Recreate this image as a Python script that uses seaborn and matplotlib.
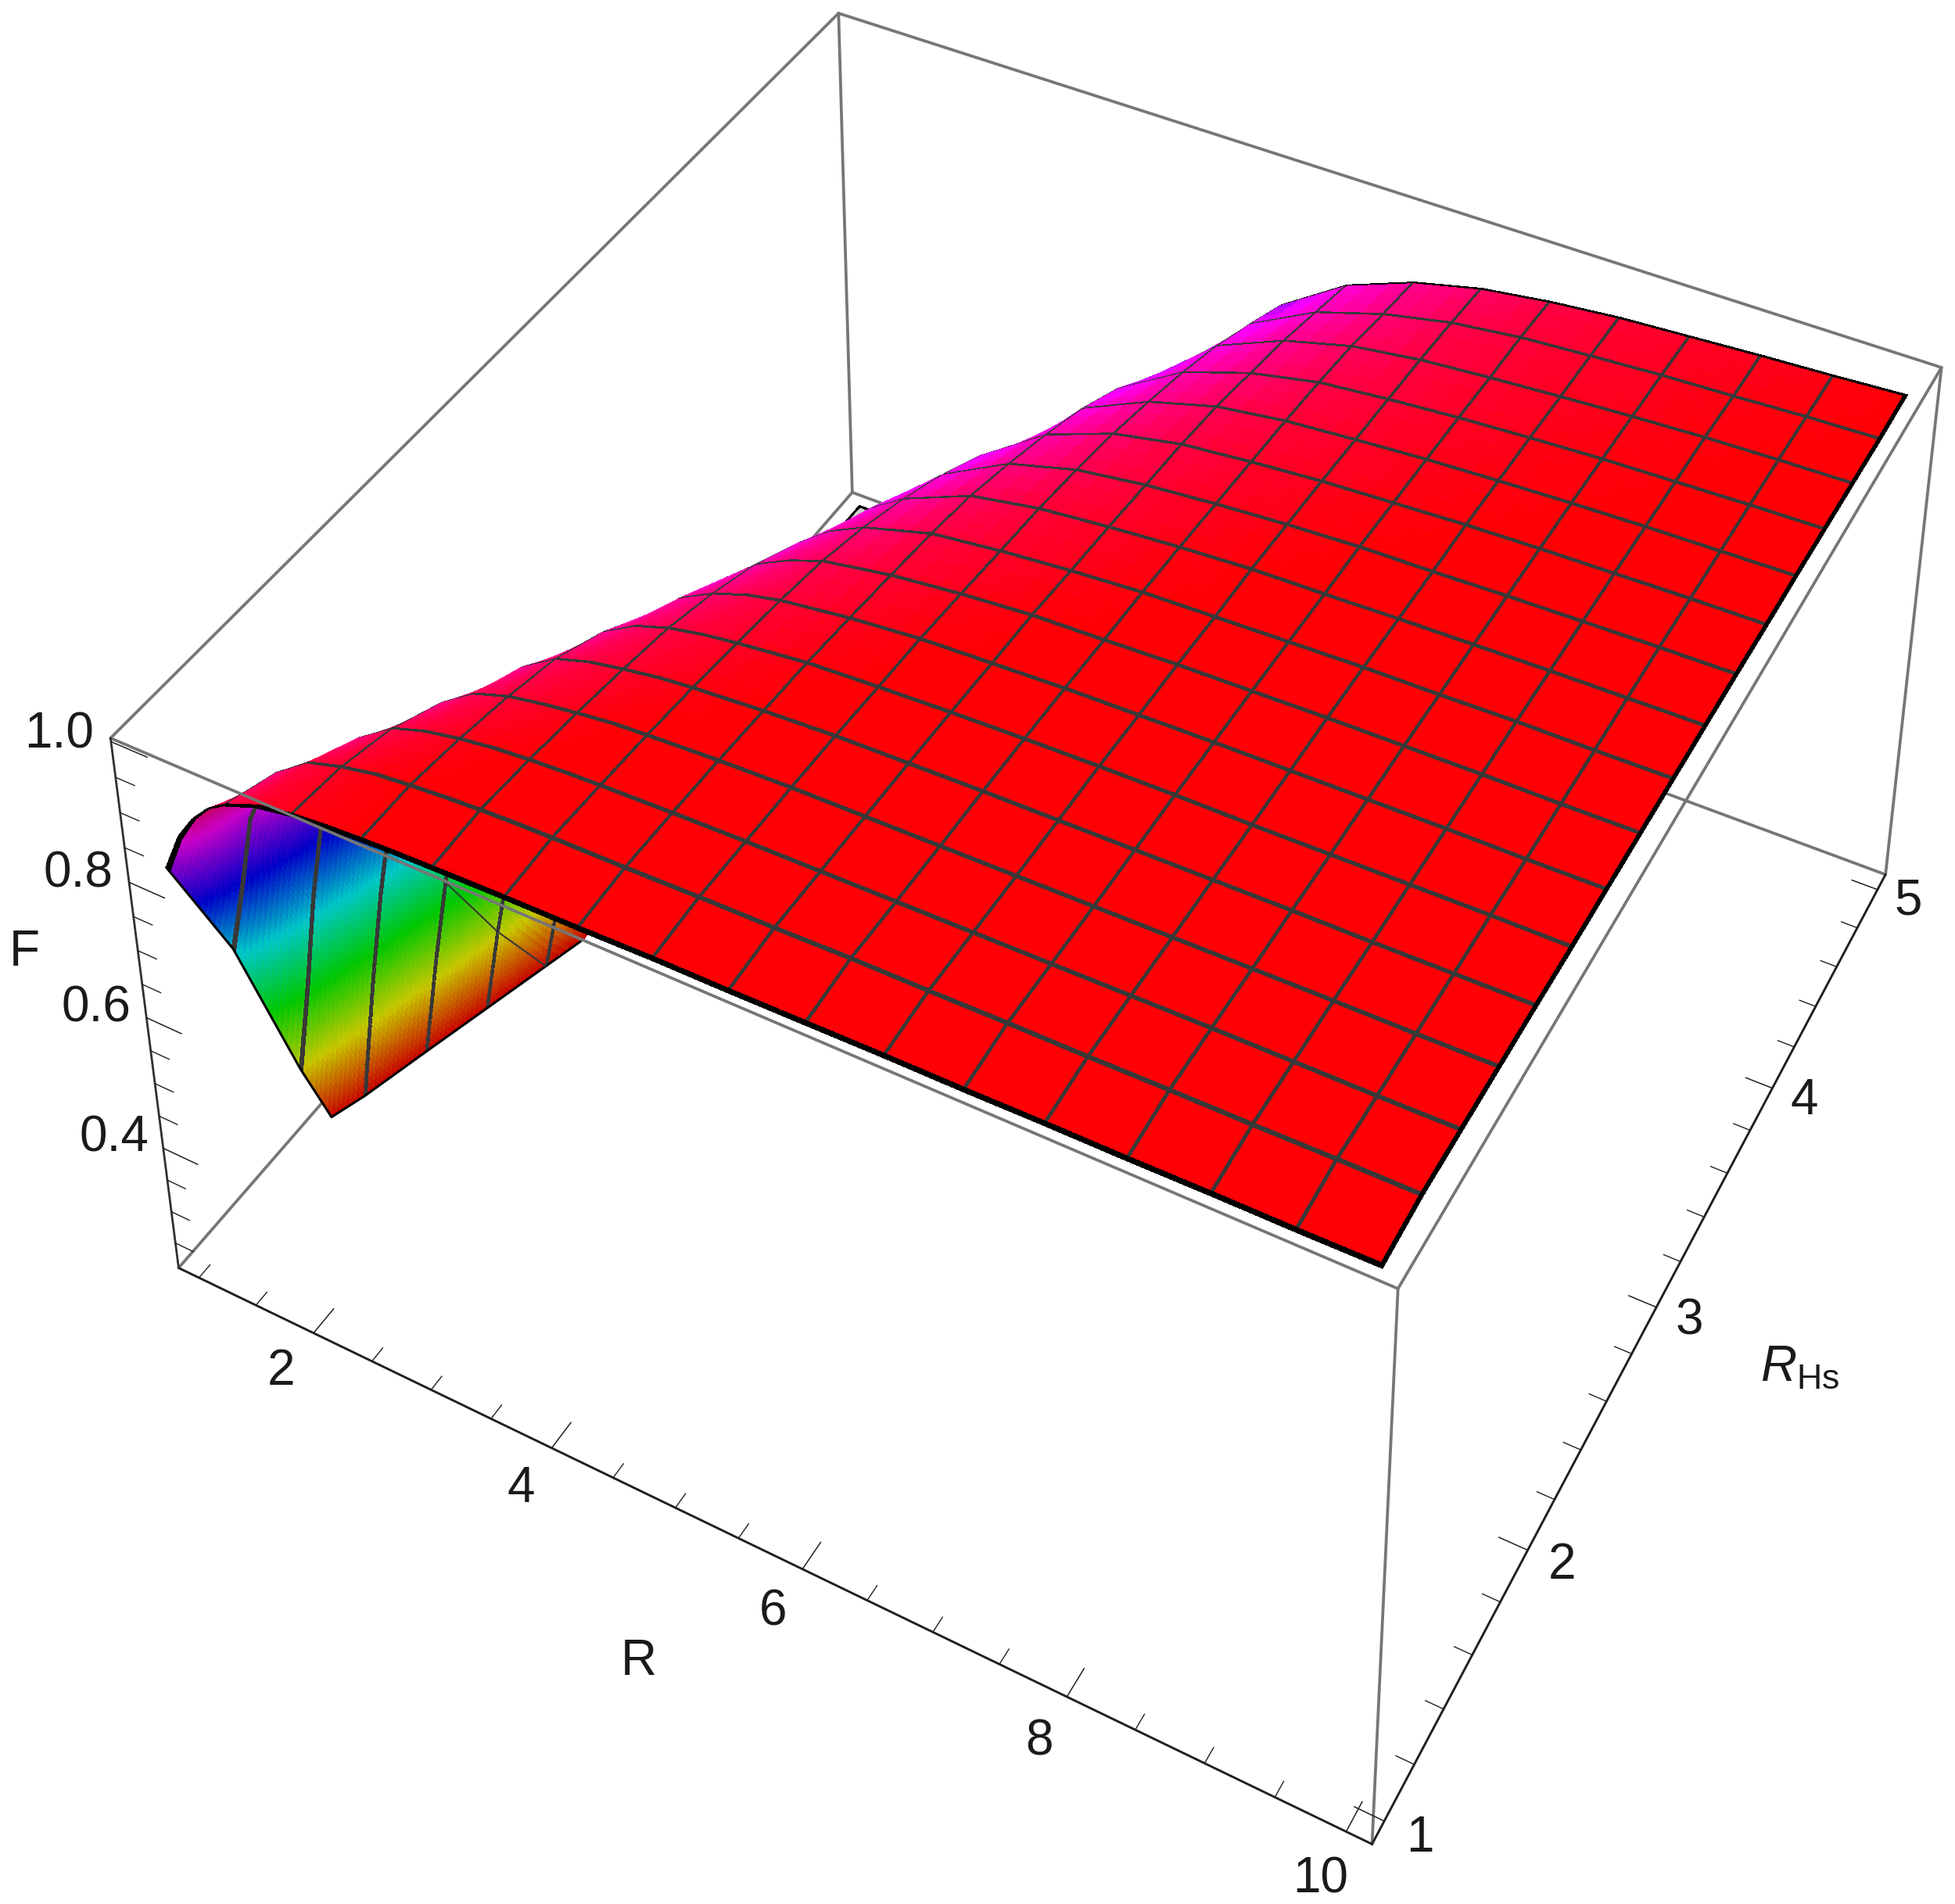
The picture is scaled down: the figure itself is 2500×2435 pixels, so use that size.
import numpy as np
import matplotlib
matplotlib.use("Agg")
import matplotlib.pyplot as plt
import seaborn as sns

# axis ranges of the box, with the padding seen outside the first and last ticks
R_LIM = (0.82, 10.18)
RHS_LIM = (0.92, 5.08)
F_LIM = (0.21, 1.005)
F_FLOOR = 0.22

R_MAJOR = [2, 4, 6, 8, 10]
R_MINOR = [1, 1.5, 2.5, 3, 3.5, 4.5, 5, 5.5, 6.5, 7, 7.5, 8.5, 9, 9.5]
RHS_MAJOR = [1, 2, 3, 4, 5]
RHS_MINOR = [1.2, 1.4, 1.6, 1.8, 2.2, 2.4, 2.6, 2.8, 3.2, 3.4, 3.6, 3.8, 4.2, 4.4, 4.6, 4.8]
F_MAJOR = [0.4, 0.6, 0.8, 1.0]
F_MINOR = [0.25, 0.3, 0.35, 0.45, 0.5, 0.55, 0.65, 0.7, 0.75, 0.85, 0.9, 0.95]
F_TICK_LABELS = ["0.4", "0.6", "0.8", "1.0"]

# mesh lines of the surface
R_MESH = [1.5625, 2.125, 2.6875, 3.25, 3.8125, 4.375, 4.9375, 5.5, 6.0625, 6.625, 7.1875, 7.75, 8.3125, 8.875, 9.4375]
RHS_MESH = [1.25, 1.5, 1.75, 2, 2.25, 2.5, 2.75, 3, 3.25, 3.5, 3.75, 4, 4.25, 4.5, 4.75]

# F: one row per RHs value, one column per R value
# (values under the floor continue the slope below the bottom of the box, where the surface is cut)
R_GRID = [1, 1.14, 1.28, 1.42, 1.5625, 1.84, 2.125, 2.4, 2.6875, 2.97, 3.25, 3.53, 3.8125, 4.375, 4.9375, 5.5, 6.0625, 6.625, 7.1875, 7.75, 8.3125, 8.875, 9.4375, 10]
RHS_GRID = [1, 1.25, 1.5, 1.75, 2, 2.25, 2.5, 2.75, 3, 3.25, 3.5, 3.75, 4, 4.25, 4.5, 4.75, 5]
F_TABLE = [
    [.81, .865, .90, .925, .94, .958, .967, .971, .974, .976, .977, .978, .979, .98, .982, .982, .983, .984, .984, .985, .985, .986, .986, .987],
    [.61, .713, .825, .878, .911, .945, .959, .969, .974, .978, .981, .983, .984, .985, .987, .988, .990, .990, .991, .991, .992, .992, .993, .993],
    [.34, .478, .63, .753, .834, .906, .939, .954, .964, .971, .975, .978, .980, .983, .985, .986, .987, .988, .989, .990, .991, .991, .991, .992],
    [.10, .272, .426, .567, .69, .839, .903, .934, .95, .959, .966, .972, .975, .980, .983, .984, .985, .986, .987, .988, .989, .990, .990, .991],
    [0, .11, .25, .388, .516, .722, .845, .90, .931, .946, .955, .963, .968, .975, .98, .982, .984, .985, .986, .987, .988, .988, .989, .990],
    [0, 0, .108, .232, .358, .577, .749, .847, .898, .926, .942, .952, .959, .970, .975, .979, .982, .984, .985, .985, .986, .987, .988, .988],
    [0, 0, 0, .106, .22, .435, .625, .767, .852, .896, .921, .938, .949, .962, .971, .975, .979, .981, .983, .984, .985, .986, .986, .987],
    [0, 0, 0, 0, .106, .308, .50, .66, .786, .854, .894, .918, .936, .953, .964, .972, .975, .979, .981, .983, .984, .985, .985, .986],
    [0, 0, 0, 0, .012, .196, .385, .55, .694, .801, .856, .892, .916, .944, .956, .965, .972, .975, .978, .981, .982, .984, .984, .985],
    [0, 0, 0, 0, 0, .102, .274, .44, .59, .716, .812, .858, .89, .931, .949, .959, .967, .973, .975, .978, .980, .982, .983, .984],
    [0, 0, 0, 0, 0, .02, .184, .342, .492, .623, .733, .817, .859, .911, .938, .952, .961, .968, .973, .975, .978, .98, .982, .983],
    [0, 0, 0, 0, 0, 0, .104, .25, .40, .536, .65, .746, .821, .888, .925, .945, .955, .963, .968, .973, .976, .978, .98, .981],
    [0, 0, 0, 0, 0, 0, .03, .17, .314, .447, .569, .674, .759, .862, .907, .935, .949, .957, .964, .969, .973, .976, .978, .98],
    [0, 0, 0, 0, 0, 0, 0, .10, .234, .368, .487, .596, .696, .827, .887, .92, .941, .951, .959, .965, .97, .973, .976, .978],
    [0, 0, 0, 0, 0, 0, 0, .036, .164, .29, .41, .521, .62, .78, .863, .905, .931, .945, .953, .96, .966, .971, .974, .976],
    [0, 0, 0, 0, 0, 0, 0, 0, .102, .22, .338, .447, .555, .724, .833, .885, .916, .937, .949, .956, .962, .966, .971, .974],
    [0, 0, 0, 0, 0, 0, 0, 0, .045, .158, .27, .381, .483, .665, .80, .865, .903, .927, .941, .951, .957, .963, .968, .974],
]

# pixel positions of the eight box corners, used to calibrate the camera
CORNERS_3D = [(i, j, k) for i in R_LIM for j in RHS_LIM for k in F_LIM]
CORNERS_PX = [(228, 1622), (142, 943), (1090, 630), (1072, 17),
              (1755, 2358), (1787, 1649), (2411, 1118), (2483, 470)]
WIDTH, HEIGHT = 2500, 2435


def fit_camera(world, pixels):
    """Projection matrix from data coordinates to axes fractions (DLT)."""
    rows, rhs = [], []
    for (x, y, z), (px, py) in zip(world, pixels):
        u, v = px / WIDTH, 1 - py / HEIGHT
        rows.append([x, y, z, 1, 0, 0, 0, 0, -u * x, -u * y, -u * z])
        rows.append([0, 0, 0, 0, x, y, z, 1, -v * x, -v * y, -v * z])
        rhs += [u, v]
    p = np.linalg.lstsq(np.array(rows), np.array(rhs), rcond=None)[0]
    cam = np.append(p, 1).reshape(3, 4)
    centre = np.array([np.mean(R_LIM), np.mean(RHS_LIM), np.mean(F_LIM), 1])
    return cam / (cam[2] @ centre)


def refine(values, marks, dense_to, dense=14, coarse=3):
    """Finer drawing grid for smooth shading, with thin strips around the mesh lines."""
    fine = [np.linspace(a, b, (dense if a < dense_to else coarse) + 1) for a, b in zip(values[:-1], values[1:])]
    return np.unique(np.round(np.concatenate(fine + [np.array(marks)]), 5))


sns.set_theme(style="white", rc={"axes.facecolor": "white", "figure.facecolor": "white"})
plt.rcParams["font.family"] = ["Liberation Sans", "DejaVu Sans"]
plt.rcParams["mathtext.fontset"] = "custom"
plt.rcParams["mathtext.rm"] = "Liberation Sans"
plt.rcParams["mathtext.it"] = "Liberation Sans:italic"

fig = plt.figure(figsize=(WIDTH / 100, HEIGHT / 100), dpi=100)
ax = fig.add_axes([0, 0, 1, 1], projection="3d", computed_zorder=False)
ax.set_axis_off()
ax.set_xlim(*R_LIM)
ax.set_ylim(*RHS_LIM)
ax.set_zlim(*F_LIM)

# Mathematica's camera: keep mplot3d but feed it the fitted projection.
# depth = -0.5 / w stays negative, which mplot3d's line clipping wants
cam = fit_camera(CORNERS_3D, CORNERS_PX)
M = np.vstack([cam[0], cam[1], [0, 0, 0, -0.5], cam[2]])
ax.get_proj = lambda: M
ax.apply_aspect = lambda position=None: None

# surface --------------------------------------------------------------------
R_HALF, RHS_HALF = 0.012, 0.008
R_EDGE, RHS_EDGE = 0.02, 0.013
R_BACK = 0.025
r_marks = [m + s * R_HALF for m in R_MESH for s in (-1, 1)] + [R_GRID[0] + R_BACK, R_GRID[-1] - R_EDGE]
h_marks = [m + s * RHS_HALF for m in RHS_MESH for s in (-1, 1)] + [RHS_GRID[0] + RHS_EDGE, RHS_GRID[-1] - RHS_EDGE]
r_fine = refine(R_GRID, r_marks, dense_to=3.6)
h_fine = refine(RHS_GRID, h_marks, dense_to=3.1)

table = np.array(F_TABLE)
by_r = np.array([np.interp(r_fine, R_GRID, row) for row in table])
F_fine = np.array([np.interp(h_fine, RHS_GRID, col) for col in by_r.T]).T
F_fine = np.maximum(F_fine, F_FLOOR)
R_g, H_g = np.meshgrid(r_fine, h_fine)

F_cell = (F_fine[:-1, :-1] + F_fine[1:, :-1] + F_fine[:-1, 1:] + F_fine[1:, 1:]) / 4
r_mid = (r_fine[:-1] + r_fine[1:]) / 2
h_mid = (h_fine[:-1] + h_fine[1:]) / 2

hue = sns.hls_palette(512, h=0, l=0.5, s=1, as_cmap=True)
colors = hue(np.clip((F_cell - F_FLOOR) / (0.975 - F_FLOOR), 0, 0.9999))

# underside of the sheet is darker
pts = np.stack([R_g, H_g, F_fine, np.ones_like(R_g)], axis=-1) @ cam.T
sx, sy = pts[..., 0] / pts[..., 2], pts[..., 1] / pts[..., 2]
area = (sx[1:, 1:] - sx[:-1, :-1]) * (sy[1:, :-1] - sy[:-1, 1:]) - (sy[1:, 1:] - sy[:-1, :-1]) * (sx[1:, :-1] - sx[:-1, 1:])
under = area * area[-2, -2] < 0
colors[under, :3] *= 0.78

floor = F_cell <= F_FLOOR + 1e-6
colors[floor] = (0.8, 0.8, 0.8, 1)
colors[floor & (r_mid[None, :] < R_GRID[0] + R_BACK)] = (0, 0, 0, 1)
DARK = (0.22, 0.22, 0.22, 1)
for m in R_MESH:
    hit = np.abs(r_mid - m) < R_HALF
    colors[:, hit] = np.where(under[:, hit, None] | floor[:, hit, None], colors[:, hit], DARK)
for m in RHS_MESH:
    row = np.abs(h_mid - m) < RHS_HALF
    colors[row] = np.where(floor[row][..., None], colors[row], DARK)
colors[:, r_mid > R_GRID[-1] - R_EDGE] = (0, 0, 0, 1)
colors[h_mid < RHS_GRID[0] + RHS_EDGE] = (0, 0, 0, 1)
colors[h_mid > RHS_GRID[-1] - RHS_EDGE] = (0, 0, 0, 1)

ax.plot_surface(R_g, H_g, F_fine, facecolors=colors, rstride=1, cstride=1,
                shade=False, linewidth=0.5, antialiased=False, zorder=2)

# outline where the sheet is seen from below, taken from the table
cut_h = [h for h, row in zip(RHS_GRID, F_TABLE) if row[0] < F_FLOOR and h <= 2.75]
cut_r = [np.interp(F_FLOOR, row, R_GRID) for h, row in zip(RHS_GRID, F_TABLE) if row[0] < F_FLOOR and h <= 2.75]
cut_h[-1] = 2.65  # the red sheet hides the rest
cut_r[-1] = np.interp(2.65, [2.5, 2.75], cut_r[-2:])
tip_h = np.interp(-F_FLOOR, [-F_TABLE[2][0], -F_TABLE[3][0]], [RHS_GRID[2], RHS_GRID[3]])
ax.plot([R_GRID[0]] + cut_r, [tip_h] + cut_h, [F_FLOOR] * (len(cut_r) + 1), color="black", lw=2.2, zorder=3)
ax.plot([R_GRID[0]] * 4, RHS_GRID[:3] + [tip_h], [F_TABLE[0][0], F_TABLE[1][0], F_TABLE[2][0], F_FLOOR],
        color="black", lw=2.2, zorder=3)
# the one constant-R line that shows on the underside
ax.plot([R_MESH[0]] * 3, RHS_GRID[4:7], [F_TABLE[4][4], F_TABLE[5][4], F_TABLE[6][4]], color="#383838", lw=1.5, zorder=3)

# box ------------------------------------------------------------------------
r0, r1 = R_LIM
h0, h1 = RHS_LIM
z0, z1 = F_LIM
GREY = "#767676"


def edge(a, b, color=GREY, lw=2.7, zorder=5):
    ax.plot([a[0], b[0]], [a[1], b[1]], [a[2], b[2]], color=color, lw=lw, zorder=zorder)


# behind the surface
edge((r0, h1, z0), (r1, h1, z0), zorder=1)
edge((r0, h0, z0), (r0, h1, z0), zorder=1)
edge((r0, h1, z0), (r0, h1, z1), zorder=1)
edge((r1, h1, z0), (r1, h1, z1), zorder=1)
edge((r0, h1, z1), (r1, h1, z1), zorder=1)
edge((r0, h0, z1), (r0, h1, z1), zorder=1)
# in front of it
edge((r0, h0, z1), (r1, h0, z1))
edge((r1, h0, z1), (r1, h1, z1))
edge((r1, h0, z0), (r1, h0, z1))
# axes with ticks
edge((r0, h0, z0), (r1, h0, z0), color="#202020", lw=2.1)
edge((r1, h0, z0), (r1, h1, z0), color="#202020", lw=2.1)
edge((r0, h0, z0), (r0, h0, z1), color="#303030", lw=2.0)

TICK = "#202020"
for v in R_MAJOR:
    edge((v, h0, z0), (v, h0 + 0.105, z0), color=TICK, lw=1.1)
for v in R_MINOR:
    edge((v, h0, z0), (v, h0 + 0.057, z0), color=TICK, lw=1.0)
for v in RHS_MAJOR:
    edge((r1, v, z0), (r1 - 0.21, v, z0), color=TICK, lw=1.1)
for v in RHS_MINOR:
    edge((r1, v, z0), (r1 - 0.13, v, z0), color=TICK, lw=1.0)
for v in F_MAJOR:
    edge((r0, h0, v), (r0 + 0.3, h0, v), color=TICK, lw=1.1)
for v in F_MINOR:
    edge((r0, h0, v), (r0 + 0.16, h0, v), color=TICK, lw=1.0)

# labels ---------------------------------------------------------------------
FONT = 46
INK = "#1a1a1a"
for v in R_MAJOR:
    ax.text(v, h0 - 0.165, z0, str(v), fontsize=FONT, ha="center", va="center", color=INK, zorder=6)
for v in RHS_MAJOR:
    ax.text(r1 + 0.25, v, z0, str(v), fontsize=FONT, ha="center", va="center", color=INK, zorder=6)
for v, s in zip(F_MAJOR, F_TICK_LABELS):
    ax.text(r0 - 0.45, h0, v - 0.022, s, fontsize=FONT, ha="center", va="center", color=INK, zorder=6)

ax.text(r0 - 1.05, h0, 0.615, "F", fontsize=FONT, ha="center", va="center", color=INK, zorder=6)
ax.text(5.42, h0 - 0.49, z0, "R", fontsize=FONT, ha="center", va="center", color=INK, zorder=6)
ax.text(r1 + 1.07, 3.0, z0, r"$R_{\mathrm{Hs}}$", fontsize=FONT, ha="center", va="center", color=INK, zorder=6)

# the 2D view is plain axes fractions because the camera was fitted that way
ax.viewLim.intervalx = (0, 1)
ax.viewLim.intervaly = (0, 1)

fig.savefig("out.png", dpi=100, facecolor="white")
